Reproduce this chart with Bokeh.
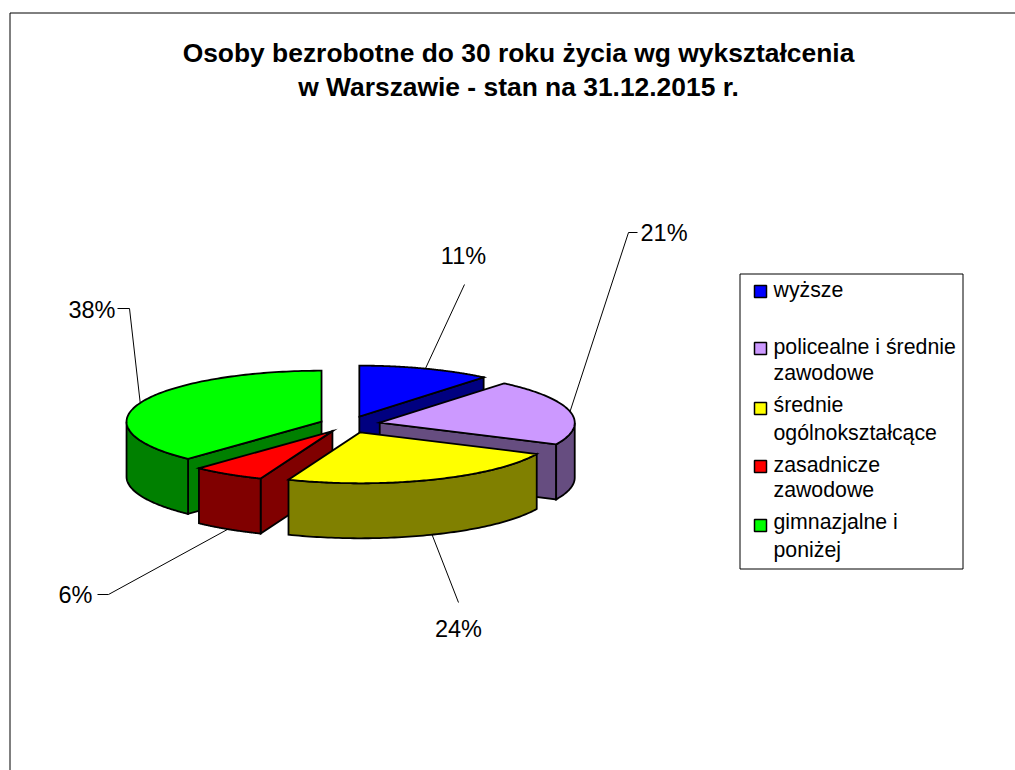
import numpy as np
from bokeh.core.properties import value
from bokeh.embed import file_html
from bokeh.models import ColumnDataSource
from bokeh.plotting import figure
from bokeh.resources import INLINE

TITLE_LINES = ["Osoby bezrobotne do 30 roku życia wg wykształcenia",
               "w Warszawie - stan na 31.12.2015 r."]
CATEGORIES = ["wyższe", "policealne i średnie zawodowe", "średnie ogólnokształcące",
              "zasadnicze zawodowe", "gimnazjalne i poniżej"]
LEGEND_ROWS = [["wyższe"], ["policealne i średnie", "zawodowe"], ["średnie", "ogólnokształcące"],
               ["zasadnicze", "zawodowe"], ["gimnazjalne i", "poniżej"]]
SHARES = [11, 21, 24, 6, 38]
TOP_COLORS = ["#0000FF", "#CC99FF", "#FFFF00", "#FF0000", "#00FF00"]
SIDE_COLORS = ["#000080", "#664D80", "#808000", "#800000", "#008000"]

# layout (page pixels)
FONT = "Liberation Sans"
W, H = 1015, 770
CX, CY, RX, RY, DEPTH = 348.0, 424.0, 195.0, 51.0, 55.0
EXPLODE = [32, 32, 32, 30, 29]
DRAW_ORDER = [0, 4, 1, 3, 2]
LABEL_ELBOW = [None, (628, 232), None, (108, 594), (129, 308)]
LABEL_END = [(464, 284), (637, 232), (458, 602), (97, 594), (117, 308)]
LABEL_POS = [(463, 255, "center"), (640, 232, "left"), (458, 628, "center"),
             (75, 594, "center"), (115, 309, "right")]
LEGEND_BOX = (739.5, 273.5, 962.5, 568.5)
LEGEND_SWATCH_X = 760
LEGEND_TEXT_X = 773
LEGEND_SWATCH_Y = [291, 348, 408, 466, 525]
LEGEND_TEXT_Y = [[289.5], [346.5, 372.5], [404.5, 432.5], [464.5, 489.5], [521.5, 549.5]]

p = figure(width=W, height=H, x_range=(0, W), y_range=(H, 0),
           output_backend="svg", toolbar_location=None,
           x_axis_location=None, y_axis_location=None, min_border=0)
p.grid.visible = False
p.outline_line_color = None
p.background_fill_color = "#FFFFFF"

# chart frame
p.multi_line([[9.5, W], [9.5, 9.5]], [[12.5, 12.5], [12.5, H]], line_color="#000000", line_width=1)

total = sum(SHARES)
edges = np.cumsum([0] + SHARES) / total * 2 * np.pi
mids = (edges[:-1] + edges[1:]) / 2
centers = [(CX + EXPLODE[i] * np.sin(mids[i]), CY - EXPLODE[i] * RY / RX * np.cos(mids[i]))
           for i in range(len(SHARES))]


def rim(c, a):
    return c[0] + RX * np.sin(a), c[1] - RY * np.cos(a)


# leader lines, anchored at each slice's mid angle (behind the pie)
lx, ly = [], []
for i in range(len(SHARES)):
    ax, ay = rim(centers[i], mids[i])
    if np.cos(mids[i]) < 0:
        ay += DEPTH
    xs, ys = [ax], [ay]
    if LABEL_ELBOW[i]:
        xs.append(LABEL_ELBOW[i][0]); ys.append(LABEL_ELBOW[i][1])
    xs.append(LABEL_END[i][0]); ys.append(LABEL_END[i][1])
    lx.append(xs); ly.append(ys)
p.multi_line(lx, ly, line_color="#000000", line_width=1)

# slices
px, py, pc = [], [], []
for i in DRAW_ORDER:
    c = centers[i]
    a0, a1 = edges[i], edges[i + 1]
    # radial walls
    for a, visible in ((a0, np.pi < a0 < 2 * np.pi), (a1, 0 < a1 < np.pi)):
        if visible:
            ex, ey = rim(c, a)
            px.append([c[0], ex, ex, c[0]])
            py.append([c[1], ey, ey + DEPTH, c[1] + DEPTH])
            pc.append(SIDE_COLORS[i])
    # outer wall (front half only)
    v0, v1 = max(a0, np.pi / 2), min(a1, 3 * np.pi / 2)
    if v1 > v0:
        t = np.linspace(v0, v1, 80)
        ox, oy = rim(c, t)
        px.append(list(ox) + list(ox[::-1]))
        py.append(list(oy) + list((oy + DEPTH)[::-1]))
        pc.append(SIDE_COLORS[i])
    # top
    t = np.linspace(a0, a1, 120)
    ox, oy = rim(c, t)
    px.append([c[0]] + list(ox))
    py.append([c[1]] + list(oy))
    pc.append(TOP_COLORS[i])
p.patches("x", "y", fill_color="c", line_color="#000000", line_width=1.8, line_join="miter",
          source=ColumnDataSource(dict(x=px, y=py, c=pc)))

# percentage labels
for share, (x, y, align) in zip(SHARES, LABEL_POS):
    p.text([x], [y], text=[f"{share}%"], text_font=value(FONT), text_font_size="23.5px",
           text_align=align, text_baseline="middle", text_color="#000000")

# title
for line, y in zip(TITLE_LINES, (52, 86)):
    p.text([518], [y], text=[line], text_font=value(FONT), text_font_size="26.4px",
           text_font_style="bold", text_align="center", text_baseline="middle", text_color="#000000")

# legend
x0, y0, x1, y1 = LEGEND_BOX
p.quad(left=[x0], right=[x1], top=[y0], bottom=[y1], fill_color="#FFFFFF", line_color="#000000", line_width=1)
p.rect(x=[LEGEND_SWATCH_X] * 5, y=LEGEND_SWATCH_Y, width=12, height=12, fill_color=TOP_COLORS,
       line_color="#000000", line_width=1.5)
for rows, ys in zip(LEGEND_ROWS, LEGEND_TEXT_Y):
    for row, y in zip(rows, ys):
        p.text([LEGEND_TEXT_X], [y], text=[row], text_font=value(FONT), text_font_size="21.3px",
               text_align="left", text_baseline="middle", text_color="#000000")

open("out.html", "w").write(file_html(p, INLINE))
